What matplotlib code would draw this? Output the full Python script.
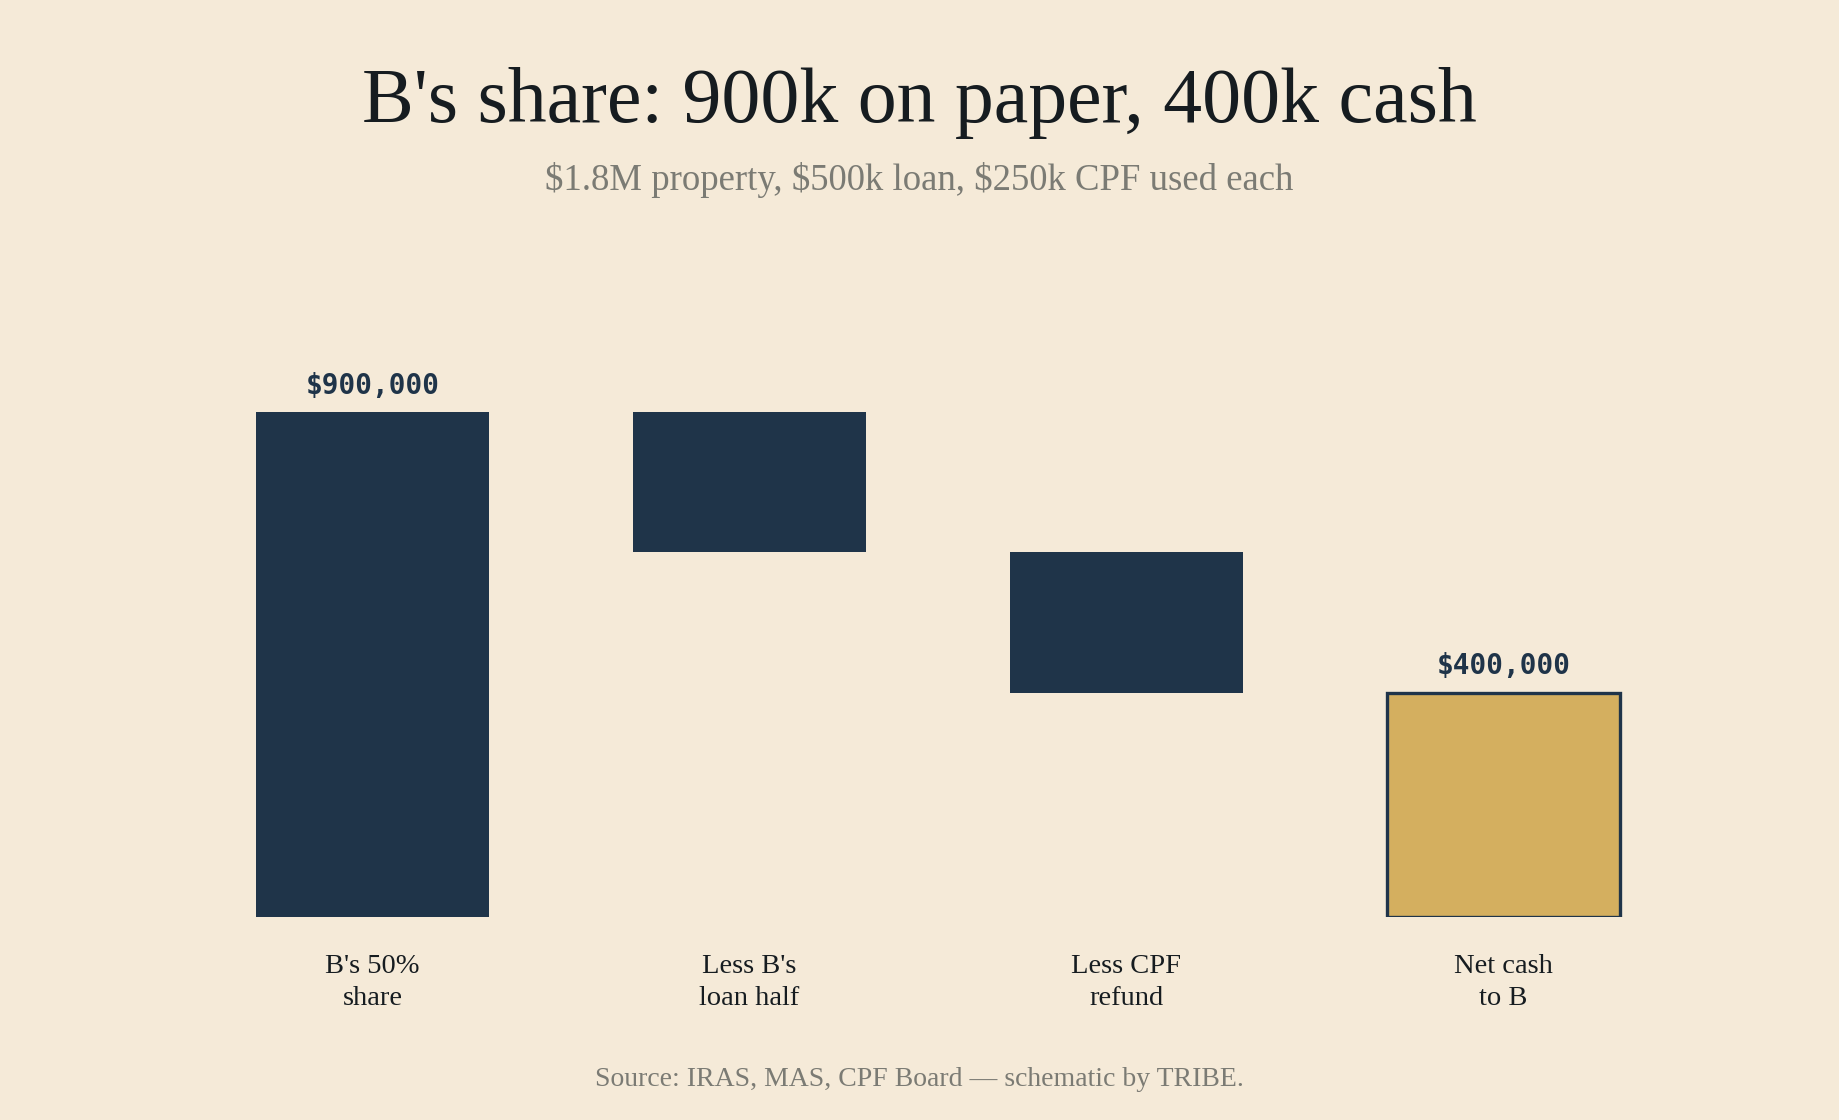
import matplotlib
matplotlib.use("Agg")
import matplotlib.pyplot as plt
import numpy as np

# ---- data ----
categories = ["B's 50%\nshare", "Less B's\nloan half", "Less CPF\nrefund", "Net cash\nto B"]
steps = [900000, -250000, -250000]          # start value, then deductions
net_total = 400000
value_labels = {0: "$900,000", 3: "$400,000"}

title = "B's share: 900k on paper, 400k cash"
subtitle = "$1.8M property, $500k loan, $250k CPF used each"
source = "Source: IRAS, MAS, CPF Board \u2014 schematic by TRIBE."

BG = "#F5EAD8"
NAVY = "#1F3449"
GOLD = "#D4AF5F"
TEXT = "#161C20"
GREY = "#7B7B74"
SERIF = ["Liberation Serif", "DejaVu Serif"]
MONO = ["DejaVu Sans Mono"]

fig = plt.figure(figsize=(18.39, 11.2), dpi=100, facecolor=BG)
ax = fig.add_axes([0.1, 0.18125, 0.82, 0.501])
ax.set_facecolor(BG)

# waterfall geometry
cum = np.cumsum(steps)
heights, bottoms = [], []
prev = 0
for i, s in enumerate(steps):
    if s >= 0:
        bottoms.append(prev); heights.append(s)
    else:
        bottoms.append(prev + s); heights.append(-s)
    prev = cum[i]
bottoms.append(0); heights.append(net_total)

x = np.arange(len(categories))
w = 0.618
for i in range(len(categories)):
    if i == 3:
        ax.bar(x[i], heights[i], bottom=bottoms[i], width=w, color=GOLD,
               edgecolor=NAVY, linewidth=2.4, zorder=2)
    else:
        ax.bar(x[i], heights[i], bottom=bottoms[i], width=w, color=NAVY,
               edgecolor="none", zorder=2)

for i, lab in value_labels.items():
    top = bottoms[i] + heights[i]
    ax.annotate(lab, (x[i], top), xytext=(0, 19), textcoords="offset points",
                ha="center", va="center", fontsize=20, fontweight="bold",
                family=MONO, color=NAVY)

for i, lab in enumerate(categories):
    ax.annotate(lab, (x[i], 0), xytext=(0, -47), textcoords="offset points",
                ha="center", va="center", fontsize=20.5, family=SERIF,
                color=TEXT, linespacing=1.36, annotation_clip=False)

ax.set_xlim(-0.5, 3.5)
ax.set_ylim(0, 1000000)
ax.axis("off")

fig.text(0.5, 1 - 122 / 1120, title, ha="center", va="baseline",
         fontsize=56, family=SERIF, color=TEXT)
fig.text(0.5, 1 - 190 / 1120, subtitle, ha="center", va="baseline",
         fontsize=26.5, family=SERIF, color=GREY)
fig.text(0.5, 1 - 1086 / 1120, source, ha="center", va="baseline",
         fontsize=20, family=SERIF, color=GREY)

fig.savefig("out.png", dpi=100, facecolor=BG)
